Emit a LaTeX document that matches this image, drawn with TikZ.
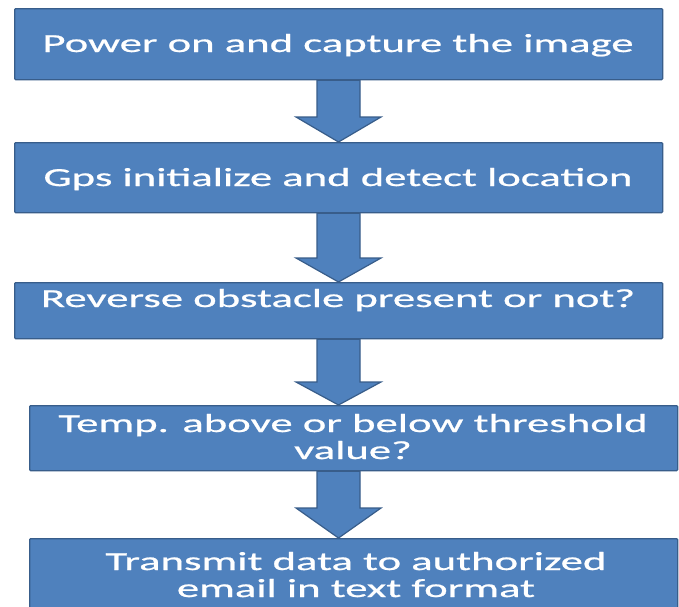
\documentclass[tikz,border=0pt]{standalone}
\usepackage{fontspec}
\newfontfamily\boxfont{Carlito}[FakeStretch=1.72,FakeBold=0.8]
\usetikzlibrary{calc}
\definecolor{boxfill}{HTML}{4F81BD}
\definecolor{boxline}{HTML}{385D8A}
\tikzset{
  box/.style={draw=boxline, fill=boxfill, line width=1.3pt, rounded corners=1pt,
    anchor=north west, inner sep=0pt, minimum width=648pt},
  boxtext/.style={text=white, font=\boxfont\fontsize{26}{27}\selectfont,
    align=center, inner sep=0pt, anchor=base},
  blockarrow/.style={draw=boxline, fill=boxfill, line width=1.2pt, line join=miter}
}
\begin{document}
\begin{tikzpicture}[x=1pt,y=-1pt]
\useasboundingbox (0,0) rectangle (679,606);
\clip (0,0) rectangle (679,606);
\fill[white] (0,0) rectangle (679,606);
\coordinate (ax) at (338.5,0);
% boxes
\node[box, minimum height=71pt] (b1) at (14,8) {};
\node[box, minimum height=70pt] (b2) at (14,142) {};
\node[box, minimum height=56pt] (b3) at (14,282) {};
\node[box, minimum height=65pt] (b4) at (29,405) {};
\node[box, minimum height=100pt] (b5) at (29,538) {};
% arrows
\draw[blockarrow] let \p0=(ax), \p1=(b1.south), \p2=(b2.north) in
  (\x0-21.5pt,\y1) -- (\x0+21.5pt,\y1) -- (\x0+21.5pt,\y2+25pt) -- (\x0+42.5pt,\y2+25pt)
  -- (\x0,\y2) -- (\x0-42.5pt,\y2+25pt) -- (\x0-21.5pt,\y2+25pt) -- cycle;
\draw[blockarrow] let \p0=(ax), \p1=(b2.south), \p2=(b3.north) in
  (\x0-21.5pt,\y1) -- (\x0+21.5pt,\y1) -- (\x0+21.5pt,\y2+24pt) -- (\x0+42.5pt,\y2+24pt)
  -- (\x0,\y2) -- (\x0-42.5pt,\y2+24pt) -- (\x0-21.5pt,\y2+24pt) -- cycle;
\draw[blockarrow] let \p0=(ax), \p1=(b3.south), \p2=(b4.north) in
  (\x0-21.5pt,\y1) -- (\x0+21.5pt,\y1) -- (\x0+21.5pt,\y2+23pt) -- (\x0+42.5pt,\y2+23pt)
  -- (\x0,\y2) -- (\x0-42.5pt,\y2+23pt) -- (\x0-21.5pt,\y2+23pt) -- cycle;
\draw[blockarrow] let \p0=(ax), \p1=(b4.south), \p2=(b5.north) in
  (\x0-21.5pt,\y1) -- (\x0+21.5pt,\y1) -- (\x0+21.5pt,\y2+30pt) -- (\x0+42.5pt,\y2+30pt)
  -- (\x0,\y2) -- (\x0-42.5pt,\y2+30pt) -- (\x0-21.5pt,\y2+30pt) -- cycle;
% texts (base = baseline of last line)
\node[boxtext] (t1) at (338,52) {Power on and capture the image};
\node[boxtext] (t2) at (338,186) {Gps initialize and detect location};
\node[boxtext] (t3) at (338,307) {Reverse obstacle present or not?};
\node[boxtext] (t4) at (353,459) {Temp. above or below threshold\\value?};
\node[boxtext] (t5) at (356,597) {Transmit data to authorized\\email in text format};
\end{tikzpicture}
\end{document}
